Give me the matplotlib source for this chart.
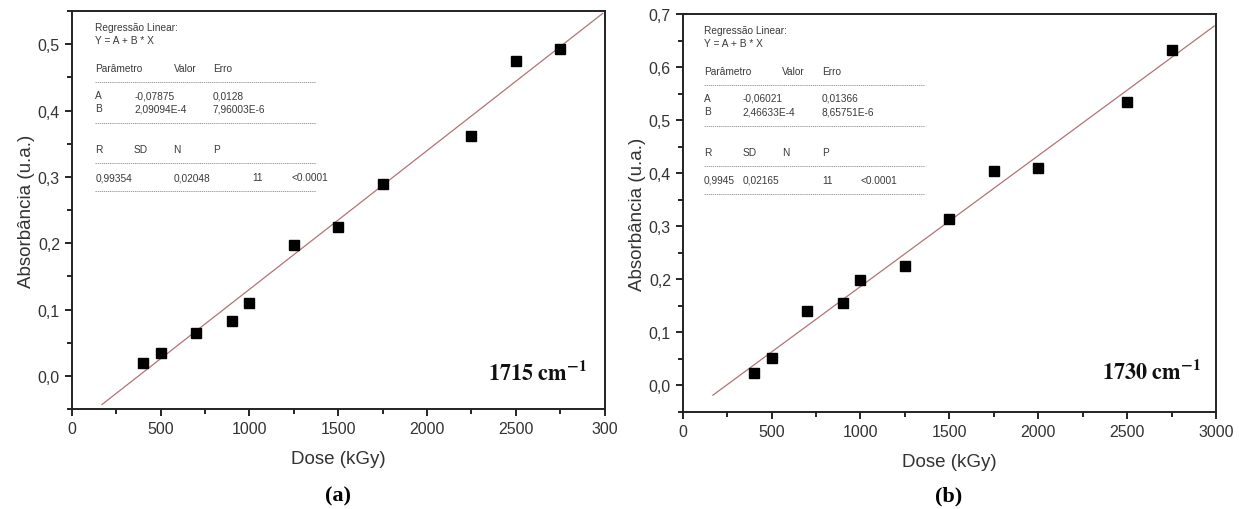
import numpy as np
import matplotlib.pyplot as plt
from matplotlib.ticker import MultipleLocator, FixedLocator, FixedFormatter

plt.rcParams['font.family'] = ['Liberation Sans', 'DejaVu Sans']
plt.rcParams['mathtext.fontset'] = 'stix'

# dose values (kGy)
dose = [400, 500, 700, 900, 1000, 1250, 1500, 1750, 2250, 2500, 2750]
dose_b = [400, 500, 700, 900, 1000, 1250, 1500, 1750, 2000, 2500, 2750]

# absorbance
abs_1715 = [0.020, 0.035, 0.065, 0.082, 0.110, 0.198, 0.224, 0.290, 0.361, 0.474, 0.493]
abs_1730 = [0.023, 0.051, 0.140, 0.155, 0.199, 0.225, 0.313, 0.404, 0.409, 0.535, 0.632]

# linear fit results shown in the boxes (A, B)
fit_a = {'1715': (-0.07875, 2.09094e-4), '1730': (-0.06021, 2.46633e-4)}
fit_range = [170, 2990]

x_ticks = [0, 500, 1000, 1500, 2000, 2500, 3000]
x_labels_a = ['0', '500', '1000', '1500', '2000', '2500', '300']
x_labels_b = ['0', '500', '1000', '1500', '2000', '2500', '3000']

box_a = {
    'vals': ['-0,07875', '2,09094E-4'],
    'errs': ['0,0128', '7,96003E-6'],
    'stats': ['0,99354', '0,02048', '11', '<0.0001'],
}
box_b = {
    'vals': ['-0,06021', '2,46633E-4'],
    'errs': ['0,01366', '8,65751E-6'],
    'stats': ['0,9945', '0,02165', '11', '<0.0001'],
}

fig = plt.figure(figsize=(12.39, 5.10), dpi=100)
ax1 = fig.add_axes([0.0579, 0.196, 0.430, 0.7804])
ax2 = fig.add_axes([0.551, 0.1902, 0.4304, 0.7804])

txt_col = '#3a3a3a'
line_col = '#b07474'


def draw_box(ax, box, cols):
    # x positions (axes fraction) for the small regression table
    c0, c1, c2, c_n, c_p, s1, s2, s3 = cols
    kw = dict(transform=ax.transAxes, fontsize=7.3, color=txt_col, va='center', ha='left')
    ax.text(c0, 0.961, 'Regressão Linear:', **kw)
    ax.text(c0, 0.926, 'Y = A + B * X', **kw)
    ax.text(c0, 0.857, 'Parâmetro', **kw)
    ax.text(c1, 0.857, 'Valor', **kw)
    ax.text(c2, 0.857, 'Erro', **kw)
    ax.text(c0, 0.789, 'A', **kw)
    ax.text(c0, 0.756, 'B', **kw)
    ax.text(c_n, 0.789, box['vals'][0], **kw)
    ax.text(c_n, 0.756, box['vals'][1], **kw)
    ax.text(c2, 0.789, box['errs'][0], **kw)
    ax.text(c2, 0.756, box['errs'][1], **kw)
    ax.text(c0, 0.653, 'R', **kw)
    ax.text(c_n, 0.653, 'SD', **kw)
    ax.text(c1, 0.653, 'N', **kw)
    ax.text(c2, 0.653, 'P', **kw)
    ax.text(c0, 0.583, box['stats'][0], **kw)
    ax.text(s1, 0.583, box['stats'][1], **kw)
    ax.text(s2, 0.583, box['stats'][2], **kw)
    ax.text(s3, 0.583, box['stats'][3], **kw)
    for yy in [0.822, 0.719, 0.617, 0.548]:
        ax.plot([c0, c_p], [yy, yy], transform=ax.transAxes, color='#888888',
                lw=0.6, ls=(0, (1.5, 1)))


def style_axes(ax, ylim, labels):
    ax.set_xlim(0, 3000)
    ax.set_ylim(*ylim)
    ax.xaxis.set_major_locator(FixedLocator(x_ticks))
    ax.xaxis.set_major_formatter(FixedFormatter(labels))
    ax.xaxis.set_minor_locator(MultipleLocator(250))
    ax.yaxis.set_major_locator(MultipleLocator(0.1))
    ax.yaxis.set_minor_locator(MultipleLocator(0.05))
    ax.yaxis.set_major_formatter(plt.FuncFormatter(lambda v, p: f'{v:.1f}'.replace('.', ',')))
    ax.tick_params(which='major', direction='out', length=5, width=1.2,
                   labelsize=11.5, labelcolor='#333333')
    ax.tick_params(which='minor', direction='out', length=3.5, width=1.2)
    ax.tick_params(top=False, right=False)
    for s in ax.spines.values():
        s.set_linewidth(1.4)
        s.set_color('#222222')
    ax.set_xlabel('Dose (kGy)', fontsize=13.5, color='#333333', labelpad=10)
    ax.set_ylabel('Absorbância (u.a.)', fontsize=13.5, color='#333333', labelpad=2)


fx = np.array(fit_range)

ax1.plot(fx, fit_a['1715'][0] + fit_a['1715'][1] * fx, color=line_col, lw=0.9)
ax1.plot(dose, abs_1715, 's', color='black', ms=6.5)
style_axes(ax1, (-0.05, 0.55), x_labels_a)
draw_box(ax1, box_a, [0.044, 0.191, 0.265, 0.117, 0.458, 0.191, 0.339, 0.413])
ax1.text(0.782, 0.092, r'$\mathbf{1715\ cm^{-1}}$', transform=ax1.transAxes,
         fontsize=16, va='center', ha='left', color='#111111')

ax2.plot(fx, fit_a['1730'][0] + fit_a['1730'][1] * fx, color=line_col, lw=0.9)
ax2.plot(dose_b, abs_1730, 's', color='black', ms=6.5)
style_axes(ax2, (-0.05, 0.7), x_labels_b)
draw_box(ax2, box_b, [0.040, 0.187, 0.261, 0.112, 0.453, 0.112, 0.262, 0.334])
ax2.text(0.787, 0.102, r'$\mathbf{1730\ cm^{-1}}$', transform=ax2.transAxes,
         fontsize=16, va='center', ha='left', color='#111111')

fig.text(0.273, 0.026, '(a)', fontsize=16, fontweight='bold',
         family='Liberation Serif', ha='center', va='center')
fig.text(0.766, 0.026, '(b)', fontsize=16, fontweight='bold',
         family='Liberation Serif', ha='center', va='center')

fig.savefig('out.png', dpi=100)
